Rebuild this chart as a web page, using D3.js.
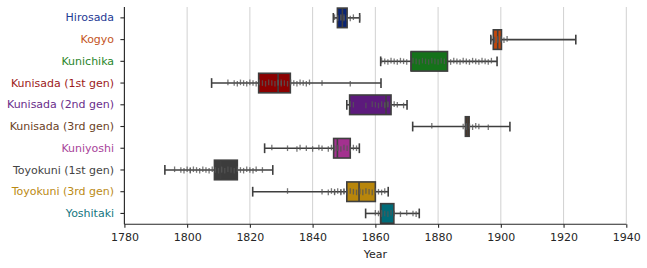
<!DOCTYPE html>
<html>
<head>
<meta charset="utf-8">
<script src="https://cdn.jsdelivr.net/npm/d3@7"></script>
<style>
  html, body { margin: 0; padding: 0; background: #fff; }
  svg { display: block; font-family: "DejaVu Sans", sans-serif; }
</style>
</head>
<body>
<svg id="chart" width="647" height="268"></svg>
<script>
const categories = ["Hirosada", "Kogyo", "Kunichika", "Kunisada (1st gen)", "Kunisada (2nd gen)",
  "Kunisada (3rd gen)", "Kuniyoshi", "Toyokuni (1st gen)", "Toyokuni (3rd gen)", "Yoshitaki"];
const colors = ["#0a2474", "#c4480c", "#15721a", "#8b0000", "#5c1a7c",
  "#5a2d0c", "#a3318f", "#3c3c3c", "#b8860b", "#006b78"];
const labelColors = ["#1f3a94", "#c4541e", "#2a862a", "#9c1a1a", "#6a2d8a",
  "#6a4226", "#a8449a", "#444444", "#bb8a14", "#157680"];

const whiskerLow  = [1846.6, 1896.8, 1861.7, 1807.8, 1850.9, 1871.9, 1824.7, 1792.9, 1820.9, 1856.9];
const q1          = [1847.9, 1897.6, 1871.4, 1822.8, 1851.8, 1888.7, 1846.7, 1808.7, 1850.9, 1861.7];
const median      = [1849.5, 1899.0, 1871.4, 1829.0, 1863.4, 1889.3, 1847.9, 1810.7, 1854.8, 1861.7];
const q3          = [1851.0, 1900.2, 1883.0, 1832.9, 1865.0, 1889.9, 1852.0, 1816.0, 1860.0, 1865.9];
const whiskerHigh = [1855.0, 1923.9, 1898.8, 1861.8, 1870.1, 1902.9, 1854.9, 1827.3, 1864.1, 1874.0];

const pointsHirosada = [1847,1848,1848,1849,1849,1850,1850,1851,1852,1853,1855];
const pointsKogyo = [1897,1898,1898,1899,1899,1899,1900,1900,1901,1902];
const pointsKunichika = [1862,1863,1864,1865,1866,1867,1868,1869,1870,1872,1873,1874,1875,1876,1877,1878,1879,1880,1881,1882,1884,1885,1886,1887,1888,1889,1890,1891,1892,1893,1894,1895,1896,1897];
const pointsKunisada1 = [1813,1815,1816,1817,1818,1819,1820,1821,1822,1823,1824,1825,1826,1827,1828,1829,1829,1830,1830,1831,1832,1833,1834,1835,1836,1837,1838,1839,1843,1852];
const pointsKunisada2 = [1852,1853,1857,1859,1860,1861,1862,1863,1863,1864,1864,1865,1866,1867,1869];
const pointsKunisada3 = [1878,1888,1889,1889,1889,1889,1890,1890,1891,1892,1893,1896];
const pointsKuniyoshi = [1827,1832,1835,1836,1838,1840,1842,1843,1845,1846,1847,1847,1848,1848,1849,1850,1851,1852,1853,1854];
const pointsToyokuni1 = [1796,1798,1799,1800,1801,1801,1802,1803,1804,1805,1806,1807,1808,1809,1810,1811,1811,1812,1813,1814,1815,1816,1817,1818,1819,1820,1821,1822,1824];
const pointsToyokuni3 = [1832,1843,1845,1846,1847,1847,1848,1849,1849,1850,1850,1851,1852,1853,1854,1855,1855,1856,1857,1858,1859,1860,1861,1862,1863];
const pointsYoshitaki = [1860,1861,1862,1862,1863,1864,1865,1866,1868,1870,1872,1873];
const points = [pointsHirosada, pointsKogyo, pointsKunichika, pointsKunisada1, pointsKunisada2,
  pointsKunisada3, pointsKuniyoshi, pointsToyokuni1, pointsToyokuni3, pointsYoshitaki];

const xTicks = [1780, 1800, 1820, 1840, 1860, 1880, 1900, 1920, 1940];
const xLabel = "Year";

(function () {
const svg = d3.select("#chart");
const mLeft = 124.4, mRight = 626.3, mTop = 7, mBottom = 224.3;

const x = d3.scaleLinear().domain([1780, 1940]).range([mLeft, mRight]);
const y = d3.scaleBand().domain(categories).range([mTop, mBottom]).padding(0);
const bw = y.bandwidth();
const boxH = bw * 0.9;
const capH = boxH * 0.5;
const edge = "#3f3f3f";

svg.append("g").selectAll("line").data(xTicks).join("line")
  .attr("x1", d => x(d)).attr("x2", d => x(d))
  .attr("y1", mTop).attr("y2", mBottom)
  .attr("stroke", "#cccccc").attr("stroke-width", 0.9);

const rows = categories.map((c, i) => ({
  c, i, lo: whiskerLow[i], q1: q1[i], med: median[i], q3: q3[i], hi: whiskerHigh[i], col: colors[i]
}));

const g = svg.append("g");
rows.forEach(r => {
  const cy = y(r.c) + bw / 2;
  g.append("line").attr("x1", x(r.lo)).attr("x2", x(r.q1)).attr("y1", cy).attr("y2", cy)
    .attr("stroke", edge).attr("stroke-width", 1.6);
  g.append("line").attr("x1", x(r.q3)).attr("x2", x(r.hi)).attr("y1", cy).attr("y2", cy)
    .attr("stroke", edge).attr("stroke-width", 1.6);
  [r.lo, r.hi].forEach(v => {
    g.append("line").attr("x1", x(v)).attr("x2", x(v))
      .attr("y1", cy - capH / 2).attr("y2", cy + capH / 2)
      .attr("stroke", edge).attr("stroke-width", 1.6);
  });
  g.append("rect").attr("x", x(r.q1)).attr("y", cy - boxH / 2)
    .attr("width", x(r.q3) - x(r.q1)).attr("height", boxH)
    .attr("fill", r.col).attr("stroke", edge).attr("stroke-width", 1.6);
  g.append("line").attr("x1", x(r.med)).attr("x2", x(r.med))
    .attr("y1", cy - boxH / 2).attr("y2", cy + boxH / 2)
    .attr("stroke", edge).attr("stroke-width", 1.6);
});

const pg = svg.append("g");
points.forEach((arr, i) => {
  const cy = y(categories[i]) + bw / 2;
  pg.selectAll(null).data(arr).join("line")
    .attr("x1", d => x(d)).attr("x2", d => x(d))
    .attr("y1", (d, k) => cy - 2.8 + ((k % 3) - 1) * 0.7)
    .attr("y2", (d, k) => cy + 2.8 + ((k % 3) - 1) * 0.7)
    .attr("stroke", "#555555").attr("stroke-opacity", 0.8).attr("stroke-width", 1.3);
});

const xAxis = d3.axisBottom(x).tickValues(xTicks).tickFormat(d3.format("d")).tickSize(3.5).tickPadding(5);
const gx = svg.append("g").attr("transform", `translate(0,${mBottom})`).call(xAxis);
gx.select(".domain").attr("stroke", "#262626").attr("stroke-width", 1.1).attr("d", `M${mLeft},0H${mRight}`);
gx.selectAll(".tick line").attr("stroke", "#262626").attr("stroke-width", 1.1);
gx.selectAll(".tick text").attr("fill", "#262626").attr("font-size", 11).attr("font-family", "DejaVu Sans");

const yAxis = d3.axisLeft(y).tickSize(4).tickPadding(6.3);
const gy = svg.append("g").attr("transform", `translate(${mLeft},0)`).call(yAxis);
gy.select(".domain").attr("stroke", "#262626").attr("stroke-width", 1.1).attr("d", `M0,${mTop}V${mBottom}`);
gy.selectAll(".tick line").attr("stroke", "#262626").attr("stroke-width", 1.1);
gy.selectAll(".tick text").attr("font-size", 11).attr("font-family", "DejaVu Sans")
  .attr("fill", (d, i) => labelColors[i]);

svg.append("text").attr("x", (mLeft + mRight) / 2).attr("y", 257.5)
  .attr("text-anchor", "middle").attr("font-size", 11).attr("fill", "#262626")
  .attr("font-family", "DejaVu Sans")
  .text(xLabel);
})();
</script>
</body>
</html>
